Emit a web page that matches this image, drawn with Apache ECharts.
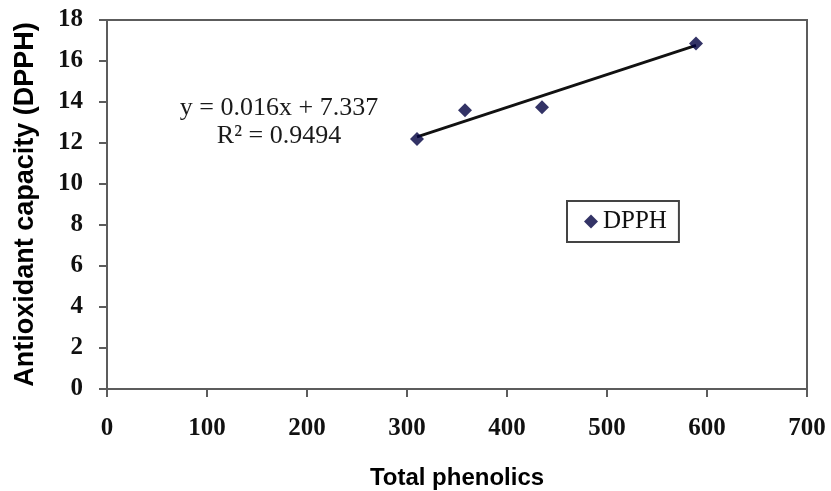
<!DOCTYPE html>
<html>
<head>
<meta charset="utf-8">
<script src="https://cdn.jsdelivr.net/npm/echarts@6/dist/echarts.min.js"></script>
<style>
  html, body { margin: 0; padding: 0; background: #fff; }
  #chart { width: 831px; height: 491px; }
</style>
</head>
<body>
<div id="chart"></div>
<script>
// Total phenolics vs. DPPH antioxidant capacity
const phenolics = [310, 358, 435, 589];
const dpph = [12.2, 13.6, 13.75, 16.85];

// Linear fit reported for the series
const slope = 0.016;
const intercept = 7.337;
const rSquared = 0.9494;

const xTicks = { min: 0, max: 700, interval: 100 };
const yTicks = { min: 0, max: 18, interval: 2 };

const points = phenolics.map((x, i) => [x, dpph[i]]);
const xLo = Math.min(...phenolics);
const xHi = Math.max(...phenolics);
const fitLine = [xLo, xHi].map(x => [x, slope * x + intercept]);

const serif = 'Liberation Serif, Times New Roman, serif';
const sans = 'Liberation Sans, Arial, sans-serif';
const axisGrey = '#5c5c5c';

const chart = echarts.init(document.getElementById('chart'));
chart.setOption({
  animation: false,
  backgroundColor: '#fff',
  grid: {
    left: 107, right: 24, top: 20, bottom: 102,
    outerBoundsMode: 'none',
    containLabel: false,
    show: true, borderColor: axisGrey, borderWidth: 2
  },
  legend: {
    data: ['DPPH'],
    left: 567, top: 201,
    orient: 'vertical',
    icon: 'diamond',
    itemWidth: 14, itemHeight: 14,
    padding: [8, 12, 8, 17],
    borderColor: '#444', borderWidth: 2,
    textStyle: { fontFamily: serif, fontSize: 25, color: '#111' }
  },
  xAxis: {
    type: 'value',
    min: xTicks.min, max: xTicks.max, interval: xTicks.interval,
    name: 'Total phenolics',
    nameLocation: 'middle',
    nameGap: 77,
    nameTextStyle: { fontFamily: sans, fontSize: 24, fontWeight: 'bold', color: '#000' },
    axisLine: { show: true, lineStyle: { color: axisGrey, width: 2 } },
    axisTick: { show: true, length: 8, lineStyle: { color: axisGrey, width: 2 } },
    axisLabel: { margin: 27, fontFamily: serif, fontSize: 25, fontWeight: 'bold', color: '#111' },
    splitLine: { show: false }
  },
  yAxis: {
    type: 'value',
    min: yTicks.min, max: yTicks.max, interval: yTicks.interval,
    name: 'Antioxidant capacity (DPPH)',
    nameLocation: 'middle',
    nameGap: 68,
    nameRotate: 90,
    nameTextStyle: { fontFamily: sans, fontSize: 27, fontWeight: 'bold', color: '#000' },
    axisLine: { show: true, lineStyle: { color: axisGrey, width: 2 } },
    axisTick: { show: true, length: 8, lineStyle: { color: axisGrey, width: 2 } },
    axisLabel: { margin: 24, fontFamily: serif, fontSize: 25, fontWeight: 'bold', color: '#111' },
    splitLine: { show: false }
  },
  series: [
    {
      name: 'trend',
      type: 'line',
      data: fitLine,
      symbol: 'none',
      lineStyle: { color: '#111', width: 2.8 },
      z: 2
    },
    {
      name: 'DPPH',
      type: 'scatter',
      data: points,
      symbol: 'diamond',
      symbolSize: 14,
      itemStyle: { color: '#000040' },
      z: 3
    }
  ],
  graphic: [
    {
      type: 'text',
      x: 279, y: 122,
      style: {
        text: 'y = ' + slope.toFixed(3) + 'x + ' + intercept.toFixed(3) + '\nR² = ' + rSquared.toFixed(4),
        font: '26px ' + serif,
        fill: '#1a1a1a',
        align: 'center',
        verticalAlign: 'middle',
        lineHeight: 28
      }
    }
  ]
});
</script>
</body>
</html>
